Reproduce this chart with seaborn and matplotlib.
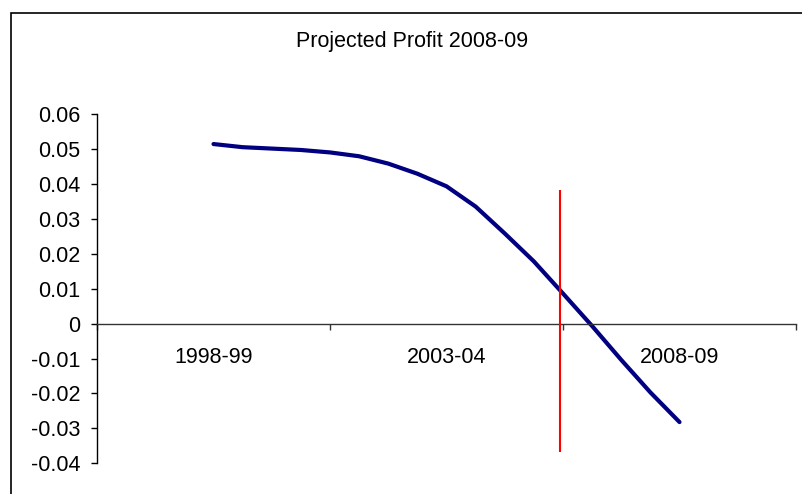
import matplotlib
matplotlib.use("Agg")
import matplotlib.pyplot as plt
import seaborn as sns
import pandas as pd
from matplotlib.patches import Rectangle

# ---- data ----
title = "Projected Profit 2008-09"
period_idx = [4, 5, 6, 7, 8, 9, 10, 11, 12, 13, 14, 15, 16, 17, 18, 19, 20]
profit = [0.0514, 0.0505, 0.0501, 0.0497, 0.0490, 0.0479, 0.0458, 0.0429,
          0.0393, 0.0335, 0.0258, 0.0178, 0.0086, -0.0007, -0.0104, -0.0197, -0.0282]
label_idx = [4, 12, 20]
tick_labels = ["1998-99", "2003-04", "2008-09"]
group_edges = [0, 8, 16, 24]
y_ticks = [-0.04, -0.03, -0.02, -0.01, 0, 0.01, 0.02, 0.03, 0.04, 0.05, 0.06]
y_tick_labels = ["-0.04", "-0.03", "-0.02", "-0.01", "0", "0.01", "0.02",
                 "0.03", "0.04", "0.05", "0.06"]
marker_x = 15.88
marker_y = [-0.0368, 0.0381]

df = pd.DataFrame({"idx": period_idx, "profit": profit})

sns.set_style("white")
plt.rcParams["font.family"] = ["Liberation Sans", "DejaVu Sans"]
plt.rcParams["text.color"] = "black"
plt.rcParams["xtick.labelcolor"] = "black"
plt.rcParams["ytick.labelcolor"] = "black"

fig = plt.figure(figsize=(8.02, 4.94), dpi=100)
ax = fig.add_axes([97 / 802, 1 - 463.3 / 494, (796 - 97) / 802, (463.3 - 114) / 494])

sns.lineplot(data=df, x="idx", y="profit", ax=ax, color="#000080", linewidth=3.0)
ax.vlines(marker_x, marker_y[0], marker_y[1], color="#FF0000", linewidth=1.5, zorder=3)

ax.set_xlim(group_edges[0], group_edges[-1])
ax.set_ylim(y_ticks[0], y_ticks[-1])
ax.set_xlabel("")
ax.set_ylabel("")

ax.spines["top"].set_visible(False)
ax.spines["right"].set_visible(False)
ax.spines["left"].set_color("black")
ax.spines["left"].set_linewidth(1.0)
ax.spines["bottom"].set_position(("data", 0))
ax.spines["bottom"].set_color("#333333")
ax.spines["bottom"].set_linewidth(1.0)

ax.set_yticks(y_ticks)
ax.set_yticklabels(y_tick_labels)
ax.tick_params(axis="y", direction="out", length=4, width=1, color="black",
               labelcolor="black", pad=8, labelsize=15.5, left=True)

ax.set_xticks(label_idx)
ax.set_xticklabels(tick_labels)
ax.set_xticks(group_edges, minor=True)
ax.tick_params(axis="x", which="major", length=0, pad=17, labelsize=15.5,
               labelcolor="black", bottom=True)
ax.tick_params(axis="x", which="minor", direction="out", length=4, width=1,
               color="#333333", bottom=True)

ax.grid(False)
ax.patch.set_alpha(0)

fig.text(412 / 802, 1 - 41 / 494, title, ha="center", va="center",
         fontsize=15.5, color="black")

fig.patches.append(Rectangle((10.5 / 802, -0.1), 1.2, 1.1 - 13 / 494,
                             transform=fig.transFigure, fill=False,
                             edgecolor="black", linewidth=1.2))

fig.savefig("out.png", dpi=100)
